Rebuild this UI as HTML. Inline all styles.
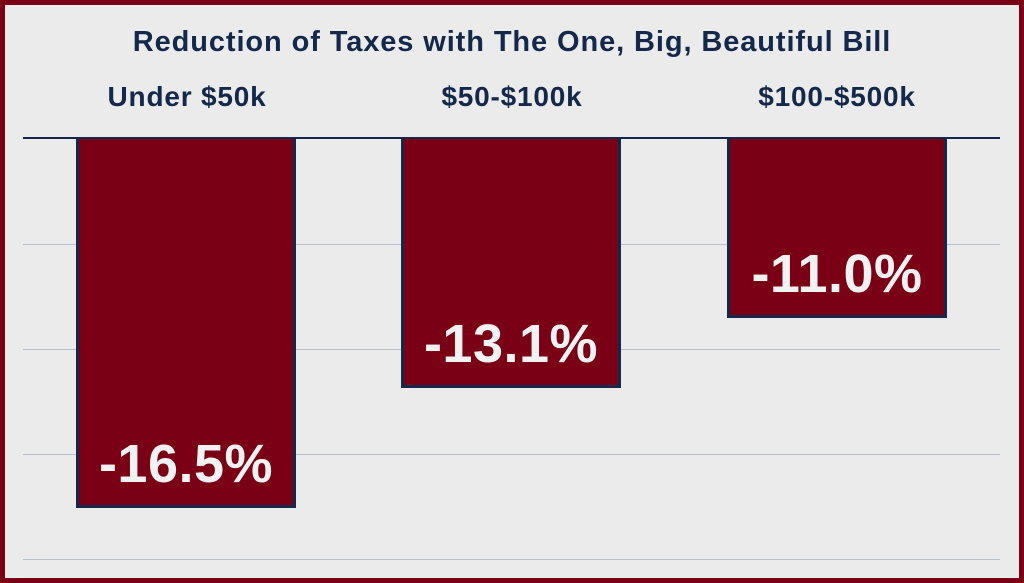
<!DOCTYPE html>
<html><head><style>
html,body{margin:0;padding:0}
body{width:1024px;height:583px;position:relative;background:#ebebeb;overflow:hidden;font-family:"Liberation Sans",sans-serif}
.frame{position:absolute;left:0;top:0;width:1014px;height:573px;border:5px solid #7a0015}
.t{position:absolute;font-weight:bold;color:#14284b;text-align:center;white-space:nowrap}
.g{position:absolute;left:23px;width:977px;height:1px;background:#b8c0cc}
.bar{position:absolute;top:138px;background:#7a0015;border:3px solid #14284b;border-top:none;box-sizing:border-box;width:220px}
.lab{position:absolute;color:#f2f2f2;font-weight:bold;font-size:54px;width:220px;text-align:center;letter-spacing:0.5px}
</style></head><body>
<div class="frame"></div>
<div class="t" style="left:0;width:1024px;top:26px;font-size:29px;letter-spacing:0.9px">Reduction of Taxes with The One, Big, Beautiful Bill</div>
<div class="t" style="left:77px;width:220px;top:81px;font-size:28px;letter-spacing:0.8px">Under $50k</div>
<div class="t" style="left:402px;width:220px;top:81px;font-size:28px;letter-spacing:0.8px">$50-$100k</div>
<div class="t" style="left:727px;width:220px;top:81px;font-size:28px;letter-spacing:0.8px">$100-$500k</div>
<div class="g" style="top:244px"></div>
<div class="g" style="top:349px"></div>
<div class="g" style="top:454px"></div>
<div class="g" style="top:559px"></div>
<div class="bar" style="left:76px;height:370px"></div>
<div class="bar" style="left:401px;height:250px"></div>
<div class="bar" style="left:727px;height:180px"></div>
<div style="position:absolute;left:23px;top:137px;width:977px;height:2px;background:#14284b"></div>
<div class="lab" style="left:76px;top:433px">-16.5%</div>
<div class="lab" style="left:401px;top:313px">-13.1%</div>
<div class="lab" style="left:727px;top:243px">-11.0%</div>
</body></html>
